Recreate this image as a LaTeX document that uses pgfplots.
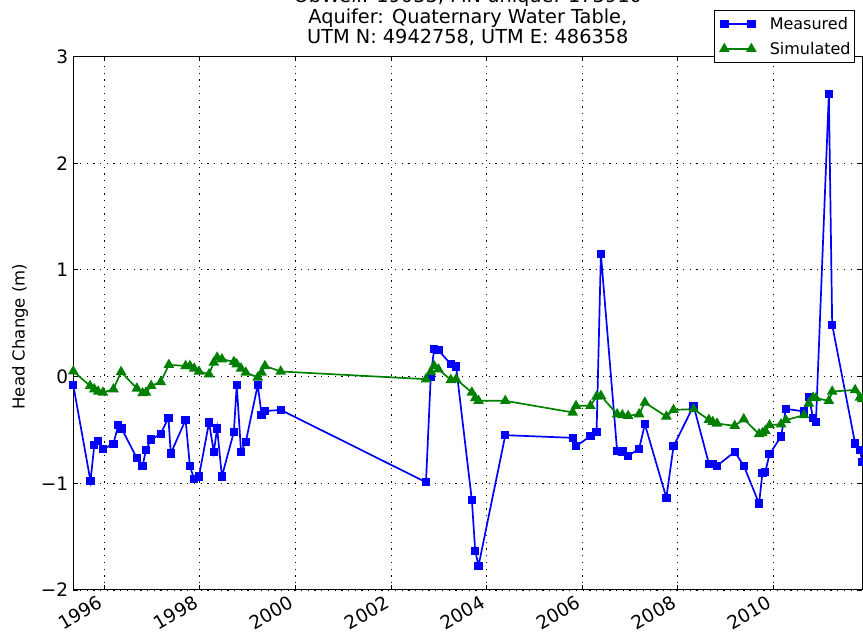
\documentclass[border=0pt]{standalone}
\usepackage{fontspec}
\setmainfont{DejaVu Sans}
\usepackage{pgfplots}
\usepackage{pgfplotstable}
\pgfplotsset{compat=1.18}
\definecolor{mplgreen}{RGB}{0,128,0}

% measured head change, decimal year vs metres
\pgfplotstableread{
year head
1995.35 -0.08
1995.71 -0.98
1995.79 -0.64
1995.87 -0.605
1995.97 -0.68
1996.19 -0.63
1996.29 -0.455
1996.36 -0.486
1996.68 -0.764
1996.80 -0.84
1996.87 -0.686
1996.98 -0.59
1997.18 -0.536
1997.34 -0.386
1997.39 -0.72
1997.70 -0.405
1997.79 -0.84
1997.88 -0.96
1997.98 -0.935
1998.19 -0.43
1998.29 -0.705
1998.36 -0.486
1998.46 -0.935
1998.71 -0.518
1998.77 -0.078
1998.86 -0.705
1998.96 -0.611
1999.21 -0.078
1999.29 -0.358
1999.35 -0.324
1999.69 -0.312
2002.73 -0.99
2002.83 0.00
2002.90 0.257
2002.99 0.247
2003.25 0.116
2003.36 0.094
2003.69 -1.157
2003.76 -1.632
2003.83 -1.772
2004.39 -0.549
2005.80 -0.574
2005.87 -0.652
2006.17 -0.558
2006.30 -0.518
2006.39 1.149
2006.73 -0.699
2006.84 -0.702
2006.96 -0.742
2007.19 -0.677
2007.31 -0.446
2007.76 -1.136
2007.91 -0.652
2008.33 -0.274
2008.65 -0.817
2008.73 -0.82
2008.82 -0.836
2009.19 -0.705
2009.38 -0.836
2009.70 -1.19
2009.77 -0.905
2009.83 -0.892
2009.92 -0.727
2010.16 -0.561
2010.26 -0.302
2010.64 -0.327
2010.74 -0.19
2010.83 -0.387
2010.89 -0.424
2011.16 2.65
2011.23 0.484
2011.71 -0.627
2011.81 -0.69
2011.86 -0.80
}\measured

% simulated head change
\pgfplotstableread{
year head
1995.35 0.05
1995.70 -0.087
1995.79 -0.118
1995.87 -0.14
1995.97 -0.149
1996.19 -0.118
1996.35 0.044
1996.68 -0.111
1996.80 -0.155
1996.87 -0.149
1996.98 -0.087
1997.18 -0.05
1997.35 0.11
1997.70 0.10
1997.79 0.10
1997.88 0.076
1997.98 0.048
1998.19 0.022
1998.29 0.132
1998.36 0.179
1998.46 0.163
1998.71 0.138
1998.77 0.116
1998.86 0.076
1998.96 0.038
1999.21 -0.008
1999.29 0.038
1999.36 0.10
1999.69 0.048
2002.73 -0.024
2002.83 0.044
2002.90 0.10
2002.99 0.069
2003.25 -0.031
2003.36 -0.024
2003.69 -0.149
2003.76 -0.202
2003.83 -0.227
2004.39 -0.227
2005.80 -0.336
2005.87 -0.274
2006.17 -0.274
2006.30 -0.186
2006.39 -0.18
2006.73 -0.352
2006.84 -0.361
2006.96 -0.368
2007.19 -0.352
2007.31 -0.243
2007.76 -0.374
2007.91 -0.312
2008.33 -0.305
2008.65 -0.405
2008.73 -0.424
2008.82 -0.44
2009.19 -0.461
2009.38 -0.399
2009.70 -0.539
2009.77 -0.53
2009.83 -0.508
2009.92 -0.455
2010.16 -0.446
2010.26 -0.408
2010.64 -0.361
2010.74 -0.252
2010.83 -0.196
2010.89 -0.202
2011.16 -0.227
2011.23 -0.14
2011.71 -0.125
2011.81 -0.196
2011.86 -0.21
}\simulated

\begin{document}
\begin{tikzpicture}
\begin{axis}[
    name=ax,
    at={(0pt,0pt)}, anchor=south west,
    scale only axis, width=789pt, height=533.5pt,
    xmin=1995.35, xmax=2011.86, ymin=-2, ymax=3,
    xtick={1996,1998,...,2010},
    xticklabels={1996,1998,2000,2002,2004,2006,2008,2010},
    ytick={-2,-1,0,1,2,3},
    yticklabels={−2,−1,0,1,2,3},
    grid=major,
    major grid style={black, line width=0.9pt, dash pattern=on 1.3pt off 5.4pt},
    axis line style={black, line width=1pt},
    tick style={black, line width=0.9pt},
    tick align=inside, major tick length=4.5pt,
    ticklabel style={font=\fontsize{18.5}{21}\selectfont},
    xticklabel style={rotate=30, anchor=south east, inner sep=0pt},
    xticklabel shift=17pt,
    yticklabel style={anchor=east, inner sep=0pt, xshift=-5pt},
    ylabel={Head Change (m)},
    ylabel style={font=\fontsize{16.5}{19}\selectfont,
        at={(axis description cs:-0.0675,0.475)}, anchor=center},
    legend cell align=left,
    legend style={at={(1,1)}, anchor=north east, xshift=-7.3pt, yshift=46.5pt,
        draw=black, line width=0.8pt, fill=white,
        font=\fontsize{16}{19}\selectfont,
        inner xsep=2.5pt, inner ysep=5.5pt, row sep=8pt, column sep=13pt,
        nodes={inner sep=1.5pt}},
    legend image code/.code={
        \path (-7pt,0pt);
        \draw[mark repeat=1,#1] plot coordinates {(0pt,0pt) (27pt,0pt)};},
]
\addplot[blue, line width=1.7pt, mark=square*, mark size=3.3pt,
    mark options={solid, fill=blue}] table[x=year, y=head] {\measured};
\addlegendentry{Measured}
\addplot[mplgreen, line width=1.7pt, mark=triangle*, mark size=4.5pt,
    mark options={solid, fill=mplgreen}] table[x=year, y=head] {\simulated};
\addlegendentry{Simulated}
\end{axis}
% title, three lines above the axis (top line runs off the page as in the original)
\node[anchor=base, font=\fontsize{19.3}{22}\selectfont]
    at ([yshift=53.5pt]ax.north) {ObWell: 19033, MN unique: 173910};
\node[anchor=base, font=\fontsize{19.3}{22}\selectfont]
    at ([yshift=33.3pt]ax.north) {Aquifer: Quaternary Water Table,};
\node[anchor=base, font=\fontsize{19.3}{22}\selectfont]
    at ([yshift=13.3pt]ax.north) {UTM N: 4942758, UTM E: 486358};
\pgfresetboundingbox
\path (-73.3pt,-49pt) rectangle (789.7pt,590pt);
\end{tikzpicture}
\end{document}
